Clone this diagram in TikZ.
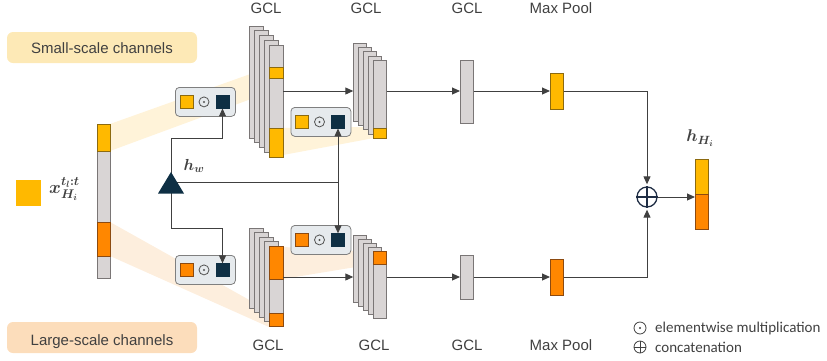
\RequirePackage{fix-cm}
\documentclass[tikz,border=0pt]{standalone}
\usepackage{amsmath}
\usepackage{fontspec}
\setmainfont{Liberation Sans}
\newfontfamily\calfont{Carlito}
\usetikzlibrary{arrows.meta}
\definecolor{cYel}{HTML}{FFB900}
\definecolor{cOra}{HTML}{FF8700}
\definecolor{cYelB}{HTML}{8C6A10}
\definecolor{cOraB}{HTML}{8C4A10}
\definecolor{cPlate}{HTML}{D9D5D5}
\definecolor{cPlateB}{HTML}{7A7676}
\definecolor{cNavy}{HTML}{0E2F44}
\definecolor{cNavyL}{HTML}{1F2D44}
\definecolor{cBox}{HTML}{E6EAED}
\definecolor{cBoxB}{HTML}{7F7F7F}
\definecolor{cArr}{HTML}{404040}
\definecolor{cText}{HTML}{404040}
\definecolor{cBandY}{HTML}{FFF3D9}
\definecolor{cBandO}{HTML}{FDEEDD}
\definecolor{cLabY}{HTML}{FDE9B6}
\definecolor{cLabO}{HTML}{FCDDBB}
\tikzset{
  plate/.style={draw=cPlateB, fill=cPlate, line width=0.8pt, minimum width=13.5pt, inner sep=0pt, outer sep=0pt, anchor=north west},
  segY/.style={draw=cYelB, fill=cYel, line width=0.7pt},
  segO/.style={draw=cOraB, fill=cOra, line width=0.7pt},
  arr/.style={draw=cArr, line width=1pt, -{Triangle[length=8pt,width=7pt]}},
  conn/.style={draw=cArr, line width=1pt},
  mul/.style={draw=cBoxB, fill=cBox, rounded corners=4pt, line width=0.8pt, minimum width=60pt, minimum height=29pt, inner sep=0pt, anchor=north west},
  sq/.style={minimum width=13pt, minimum height=12.5pt, inner sep=0pt, line width=0.6pt},
  dotsym/.style={circle, draw=#1, line width=0.8pt, inner sep=0pt,
    path picture={\fill[#1] (path picture bounding box.center) circle (1.1pt);}},
  plussym/.style={circle, draw=#1, line width=0.8pt, inner sep=0pt,
    path picture={\draw[#1, line width=0.8pt] (path picture bounding box.north) -- (path picture bounding box.south)
      (path picture bounding box.west) -- (path picture bounding box.east);}},
  lbl/.style={text=cText, font=\fontsize{15}{18}\selectfont, inner sep=0pt},
  lbox/.style={rounded corners=6pt, minimum width=190pt, minimum height=31pt, inner sep=0pt},
  mlbl/.style={text=cText, font=\fontsize{16}{18}\selectfont, inner sep=0pt},
  leg/.style={text=cText, font=\calfont\fontsize{15}{18}\selectfont, inner sep=0pt, anchor=west}
}
\newcommand\mulcontent[3]{%
  \node[sq, fill=#2, draw=#3] (#1a) at ([xshift=11.5pt]#1.west) {};
  \node[dotsym=cText!90, minimum size=10pt] (#1o) at ([xshift=29pt]#1.west) {};
  \node[sq, fill=cNavy, draw=cNavy] (#1d) at ([xshift=47.5pt]#1.west) {};
}
\begin{document}
\begin{tikzpicture}[x=1pt,y=-1pt]
\useasboundingbox (0,0) rectangle (827,360);
% label boxes
\node[lbox, fill=cLabY] (sbox) at (102,47.5) {};
\node[lbl, anchor=base] (stxt) at (102,53.3) {Small-scale channels};
\node[lbox, fill=cLabO] (lbox) at (102,337.5) {};
\node[lbl, anchor=base] (ltxt) at (102,345) {Large-scale channels};
% bands
\fill[cBandY] (110,124) -- (270,67) -- (270,92) -- (110,151) -- cycle;
\fill[cBandY] (283,128) -- (374,127) -- (374,138) -- (283,155) -- cycle;
\fill[cBandO] (110,222) -- (269,311) -- (269,327) -- (110,256) -- cycle;
\fill[cBandO] (283,247) -- (374,252) -- (374,264) -- (283,279) -- cycle;
% legend square and input
\node[fill=cYel, minimum size=25.5pt, inner sep=0pt] (legsq) at (28.5,193) {};
\node[mlbl, anchor=west, font=\fontsize{18}{20}\selectfont] (xlab) at (49,189) {$\boldsymbol{x}_{\boldsymbol{H_i}}^{\boldsymbol{t_l:t}}$};
\node[plate, minimum height=154pt] (inp) at (97,124) {};
\draw[segY] (97,124) rectangle (110.5,151);
\draw[segO] (97,222) rectangle (110.5,256);
% upper GCL stack A
\foreach \i in {0,...,4} \node[plate, minimum height=112pt] (ua\i) at ({249.5+5*\i},{26+4.75*\i}) {};
\draw[segY] (269.5,67) rectangle (283,78);
\draw[segY] (269.5,128) rectangle (283,157);
% lower GCL stack A
\foreach \i in {0,...,4} \node[plate, minimum height=80pt] (la\i) at ({249.5+5*\i},{228+4.5*\i}) {};
\draw[segO] (269.5,246) rectangle (283,279);
\draw[segO] (269.5,313) rectangle (283,326);
% upper GCL stack B
\foreach \i in {0,...,4} \node[plate, minimum height=78pt] (ub\i) at ({353.3+5*\i},{43+4.3*\i}) {};
\draw[segY] (373.3,128) rectangle (386.8,138.2);
% lower GCL stack B
\foreach \i in {0,...,4} \node[plate, minimum height=67pt] (lb\i) at ({353.3+5*\i},{235+4.2*\i}) {};
\draw[segO] (373.3,251.8) rectangle (386.8,264);
% third GCL and max pool
\node[plate, minimum height=63pt] (u3) at (460,60) {};
\node[plate, minimum height=44pt] (l3) at (460,255) {};
\node[plate, minimum height=36pt, draw=cYelB, fill=cYel] (um) at (550,73) {};
\node[plate, minimum height=36pt, draw=cOraB, fill=cOra] (lm) at (550,259) {};
% multiplication boxes
\node[mul] (mb1) at (175,87) {}; \mulcontent{mb1}{cYel}{cYelB}
\node[mul] (mb2) at (175,255) {}; \mulcontent{mb2}{cOra}{cOraB}
\node[mul] (mb3) at (290.5,107) {}; \mulcontent{mb3}{cYel}{cYelB}
\node[mul] (mb4) at (290.5,225) {}; \mulcontent{mb4}{cOra}{cOraB}
% output
\node[plate, minimum height=70pt] (out) at (695,159) {};
\draw[segY] (695,159) rectangle (708.5,194);
\draw[segO] (695,194) rectangle (708.5,229);
\node[mlbl, font=\fontsize{17}{19}\selectfont] (hlab) at (700,138) {$\boldsymbol{h}_{\boldsymbol{H_i}}$};
% concat
\node[circle, draw=cNavyL, line width=1.3pt, minimum size=20pt, inner sep=0pt] (op) at (647,197) {};
\draw[cNavyL, line width=1.3pt] (op.north) -- (op.south) (op.west) -- (op.east);
% triangle and h_w connectors
\coordinate (tri) at (171,182.5);
\coordinate (j1) at (171,138);
\coordinate (j2) at (171,228);
\coordinate (j3) at (mb3d |- tri);
\draw[arr] (tri) -- (j1) -| (mb1d.south);
\draw[arr] (tri) -- (j2) -| (mb2d.north);
\draw[conn] (tri) -- (j3);
\draw[arr] (j3) -- (mb3d.south);
\draw[arr] (j3) -- (mb4d.north);
\fill[cNavy] (158,193.5) -- (184,193.5) -- (171,172) -- cycle;
\node[mlbl] (hw) at (194,166) {$\boldsymbol{h}_{\boldsymbol{w}}$};
% main flow
\draw[arr] (ua4.east |- um.center) -- (ub0.west |- um.center);
\draw[arr] (ub4.east |- um.center) -- (u3.west |- um.center);
\draw[arr] (u3.east |- um.center) -- (um.west);
\draw[arr] (la4.east |- lm.center) -- (lb0.west |- lm.center);
\draw[arr] (lb4.east |- lm.center) -- (l3.west |- lm.center);
\draw[arr] (l3.east |- lm.center) -- (lm.west);
\draw[arr, shorten >=2pt] (um.east) -| (op.north);
\draw[arr, shorten >=2pt] (lm.east) -| (op.south);
\draw[arr] (op.east) -- (out.west |- op);
% headings
\node[lbl] (g1) at (266,8.5) {GCL};
\node[lbl] (g2) at (366,8.5) {GCL};
\node[lbl] (g3) at (467,8.5) {GCL};
\node[lbl] (g4) at (561,8.5) {Max Pool};
\node[lbl] (g5) at (268,345.5) {GCL};
\node[lbl] (g6) at (374,345.5) {GCL};
\node[lbl] (g7) at (467,345.5) {GCL};
\node[lbl] (g8) at (561,345.5) {Max Pool};
% legend
\node[dotsym=cText, minimum size=12pt] (l1s) at (640,328) {};
\node[plussym=cText, minimum size=12pt] (l2s) at (640,347) {};
\node[leg] (l1t) at (655,328) {elementwise multiplication};
\node[leg] (l2t) at (655,347) {concatenation};
\end{tikzpicture}
\end{document}
